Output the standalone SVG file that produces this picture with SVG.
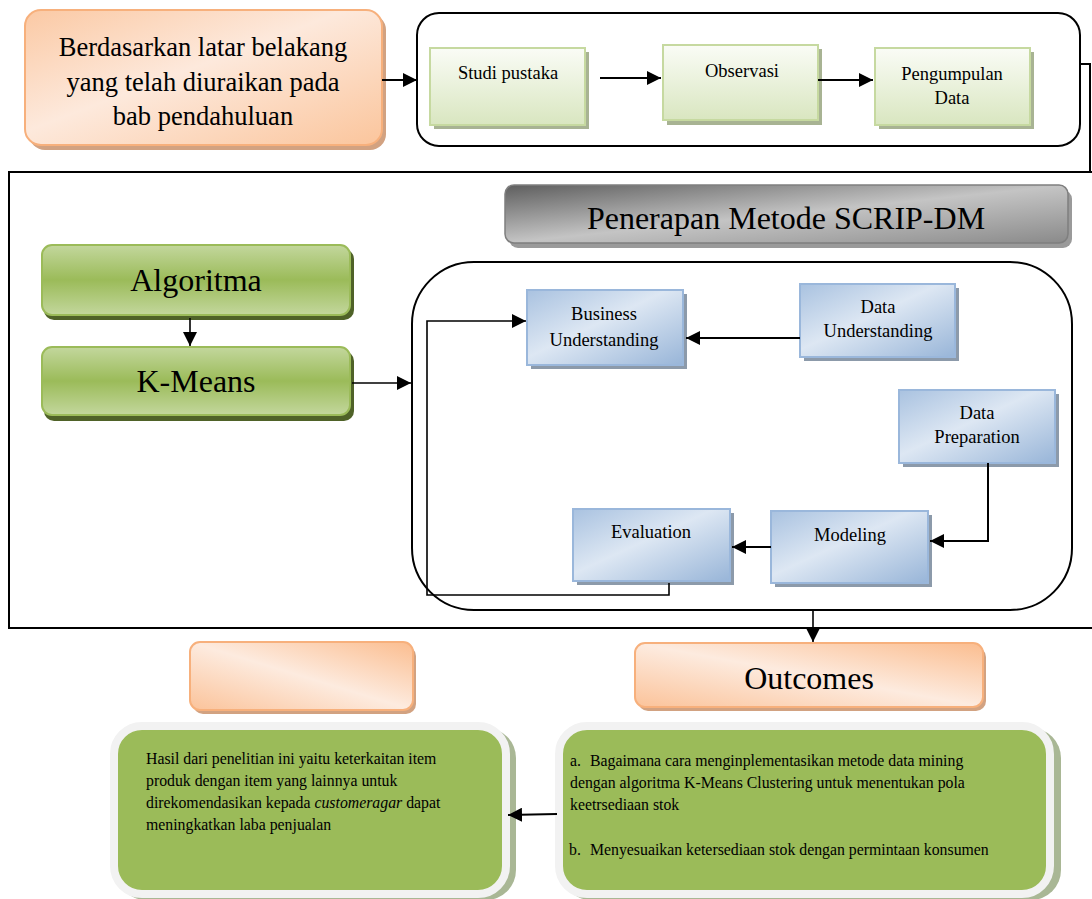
<svg xmlns="http://www.w3.org/2000/svg" width="1092" height="899" viewBox="0 0 1092 899">
<defs>
<linearGradient id="gOrange" x1="0" y1="0" x2="1" y2="1">
<stop offset="0" stop-color="#fbc9a4"/><stop offset="0.45" stop-color="#fde9dc"/><stop offset="1" stop-color="#fbc59c"/>
</linearGradient>
<linearGradient id="gOrange2" x1="0" y1="1" x2="1" y2="0">
<stop offset="0" stop-color="#fbc39a"/><stop offset="0.5" stop-color="#fdebdf"/><stop offset="1" stop-color="#fbbd8f"/>
</linearGradient>
<linearGradient id="gLGreen" x1="0" y1="0" x2="0" y2="1">
<stop offset="0" stop-color="#fafcf6"/><stop offset="1" stop-color="#d9e6c0"/>
</linearGradient>
<linearGradient id="gGreen" x1="0" y1="0" x2="0" y2="1">
<stop offset="0" stop-color="#c3d79d"/><stop offset="0.5" stop-color="#9bbb59"/><stop offset="1" stop-color="#c3d79d"/>
</linearGradient>
<linearGradient id="gBlue" x1="0" y1="0" x2="1" y2="1">
<stop offset="0" stop-color="#a9c2e0"/><stop offset="0.45" stop-color="#dde7f3"/><stop offset="1" stop-color="#98b5d8"/>
</linearGradient>
<linearGradient id="gGray" x1="0" y1="0" x2="1" y2="1">
<stop offset="0" stop-color="#5e5e5e"/><stop offset="0.5" stop-color="#c4c4c4"/><stop offset="1" stop-color="#8a8a8a"/>
</linearGradient>
<marker id="arrB" viewBox="0 0 10 10" refX="10" refY="5" markerWidth="14" markerHeight="14" markerUnits="userSpaceOnUse" orient="auto">
<path d="M0,0 L10,5 L0,10 z" fill="#000"/>
</marker>
</defs>
<style>
text{font-family:'Liberation Serif','DejaVu Serif',serif;fill:#000}
.big{font-size:32px}
.mid{font-size:26.5px}
.sm{font-size:18.5px}
.xs{font-size:15.8px}
.ln{fill:none;stroke:#000;stroke-width:2}
.ln1{fill:none;stroke:#000;stroke-width:1.6}
.orange{fill:url(#gOrange);stroke:#f7b07c;stroke-width:2}
.orange2{fill:url(#gOrange2);stroke:#f7b07c;stroke-width:2}
.oshadow{fill:#d2a281}
.lgreen{fill:url(#gLGreen);stroke:#c6d9a0;stroke-width:2}
.lgshadow{fill:#a8b393}
.green{fill:url(#gGreen);stroke:#9bbb59;stroke-width:2}
.gshadow{fill:#4f6228}
.blue{fill:url(#gBlue);stroke:#9ab7db;stroke-width:2}
.bshadow{fill:#8c9aaa}
.gray{fill:url(#gGray);stroke:#7f7f7f;stroke-width:1.5}
.grshadow{fill:#9a9a9a}
.tbox{fill:#9bbb59;stroke:#f2f2f2;stroke-width:8}
.tshadow{fill:#a9b795}
</style>

<g id="frames">
<rect x="417" y="13" width="663" height="133" rx="22" class="ln"/>
<path d="M1092,172 L9,172 L9,628 L1092,628" class="ln"/>
<rect x="412" y="262" width="660" height="348" rx="62" class="ln"/>
</g>

<g id="n-berdasarkan">
<rect x="29" y="14" width="357" height="136" rx="16" class="oshadow"/>
<rect x="25" y="10" width="357" height="135" rx="16" class="orange"/>
<text class="mid" x="203" y="56" text-anchor="middle">Berdasarkan latar belakang</text>
<text class="mid" x="203" y="91" text-anchor="middle">yang telah diuraikan pada</text>
<text class="mid" x="203" y="125" text-anchor="middle">bab pendahuluan</text>
</g>

<g id="n-studi">
<rect x="434" y="52" width="155" height="77" class="lgshadow"/>
<rect x="430" y="48" width="155" height="77" class="lgreen"/>
<text class="sm" x="508" y="79" text-anchor="middle">Studi pustaka</text>
</g>
<g id="n-observasi">
<rect x="667" y="49" width="155" height="76" class="lgshadow"/>
<rect x="663" y="45" width="155" height="75" class="lgreen"/>
<text class="sm" x="742" y="77" text-anchor="middle">Observasi</text>
</g>
<g id="n-pengumpulan">
<rect x="879" y="52" width="155" height="77" class="lgshadow"/>
<rect x="875" y="48" width="155" height="77" class="lgreen"/>
<text class="sm" x="952" y="80" text-anchor="middle">Pengumpulan</text>
<text class="sm" x="952" y="104" text-anchor="middle">Data</text>
</g>

<g id="n-penerapan">
<rect x="509" y="190" width="563" height="58" rx="9" class="grshadow"/>
<rect x="505" y="185" width="563" height="58" rx="9" class="gray"/>
<text class="big" x="786" y="229" text-anchor="middle">Penerapan Metode SCRIP-DM</text>
</g>

<g id="n-algoritma">
<rect x="44" y="249" width="310" height="71" rx="10" class="gshadow"/>
<rect x="42" y="245" width="308" height="70" rx="10" class="green"/>
<text class="big" x="196" y="291" text-anchor="middle">Algoritma</text>
</g>
<g id="n-kmeans">
<rect x="44" y="351" width="310" height="70" rx="10" class="gshadow"/>
<rect x="42" y="347" width="308" height="68" rx="10" class="green"/>
<text class="big" x="196" y="392" text-anchor="middle">K-Means</text>
</g>

<g id="n-business">
<rect x="531" y="294" width="156" height="75" class="bshadow"/>
<rect x="527" y="290" width="156" height="75" class="blue"/>
<text class="sm" x="604" y="320" text-anchor="middle">Business</text>
<text class="sm" x="604" y="346" text-anchor="middle">Understanding</text>
</g>
<g id="n-dataund">
<rect x="804" y="288" width="155" height="73" class="bshadow"/>
<rect x="800" y="284" width="155" height="73" class="blue"/>
<text class="sm" x="878" y="313" text-anchor="middle">Data</text>
<text class="sm" x="878" y="337" text-anchor="middle">Understanding</text>
</g>
<g id="n-dataprep">
<rect x="903" y="394" width="156" height="73" class="bshadow"/>
<rect x="899" y="390" width="156" height="73" class="blue"/>
<text class="sm" x="977" y="419" text-anchor="middle">Data</text>
<text class="sm" x="977" y="443" text-anchor="middle">Preparation</text>
</g>
<g id="n-modeling">
<rect x="775" y="515" width="157" height="72" class="bshadow"/>
<rect x="771" y="511" width="157" height="72" class="blue"/>
<text class="sm" x="850" y="541" text-anchor="middle">Modeling</text>
</g>
<g id="n-evaluation">
<rect x="577" y="513" width="157" height="72" class="bshadow"/>
<rect x="573" y="509" width="157" height="72" class="blue"/>
<text class="sm" x="651" y="538" text-anchor="middle">Evaluation</text>
</g>

<g id="n-empty">
<rect x="193" y="646" width="223" height="68" rx="10" class="oshadow"/>
<rect x="190" y="642" width="223" height="68" rx="10" class="orange2"/>
</g>
<g id="n-outcomes">
<rect x="638" y="647" width="348" height="64" rx="10" class="oshadow"/>
<rect x="635" y="643" width="348" height="64" rx="10" class="orange2"/>
<text class="big" x="809" y="689" text-anchor="middle">Outcomes</text>
</g>

<g id="n-hasil">
<rect x="116" y="728" width="400" height="172" rx="30" class="tshadow"/>
<rect x="114" y="726" width="392" height="168" rx="28" class="tbox"/>
<text class="xs" x="146" y="764">Hasil dari penelitian ini yaitu keterkaitan item</text>
<text class="xs" x="146" y="786">produk dengan item yang lainnya untuk</text>
<text class="xs" x="146" y="808">direkomendasikan kepada <tspan font-style="italic">customeragar</tspan> dapat</text>
<text class="xs" x="146" y="830">meningkatkan laba penjualan</text>
</g>
<g id="n-rumusan">
<rect x="561" y="728" width="500" height="172" rx="30" class="tshadow"/>
<rect x="559" y="726" width="491" height="168" rx="28" class="tbox"/>
<text class="xs" y="766"><tspan x="570">a.</tspan><tspan x="590">Bagaimana cara menginplementasikan metode data mining</tspan></text>
<text class="xs" x="570" y="788">dengan algoritma K-Means Clustering untuk menentukan pola</text>
<text class="xs" x="570" y="810">keetrsediaan stok</text>
<text class="xs" y="855"><tspan x="569">b.</tspan><tspan x="590">Menyesuaikan ketersediaan stok dengan permintaan konsumen</tspan></text>
</g>

<g id="connectors">
<line x1="382" y1="80" x2="417" y2="80" class="ln" marker-end="url(#arrB)"/>
<line x1="600" y1="78" x2="661" y2="78" class="ln" marker-end="url(#arrB)"/>
<line x1="818" y1="80" x2="873" y2="80" class="ln" marker-end="url(#arrB)"/>
<polyline points="1080,64 1090,64 1090,172" class="ln"/>
<line x1="190" y1="318" x2="190" y2="346" class="ln1" marker-end="url(#arrB)"/>
<line x1="352" y1="383" x2="411" y2="383" class="ln1" marker-end="url(#arrB)"/>
<line x1="800" y1="338" x2="686" y2="338" class="ln" marker-end="url(#arrB)"/>
<polyline points="988,463 988,541 930,541" class="ln" marker-end="url(#arrB)"/>
<line x1="771" y1="547" x2="732" y2="547" class="ln" marker-end="url(#arrB)"/>
<polyline points="669,583 669,595 427,595 427,321 526,321" class="ln1" marker-end="url(#arrB)"/>
<line x1="813" y1="610" x2="813" y2="642" class="ln1" marker-end="url(#arrB)"/>
<line x1="557" y1="814" x2="508" y2="815" class="ln" marker-end="url(#arrB)"/>
</g>
</svg>
